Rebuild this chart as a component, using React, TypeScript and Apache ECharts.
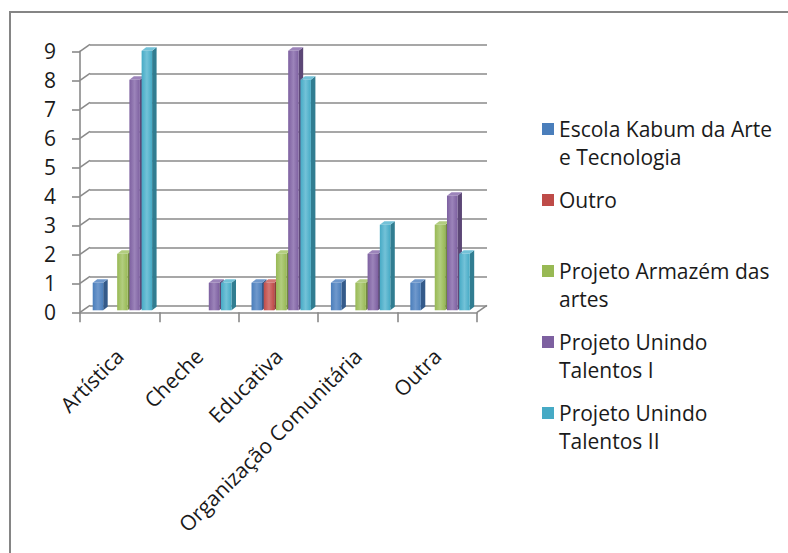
import React, { useEffect, useRef } from "react";
import * as echarts from "echarts";

const categories = ["Artística", "Cheche", "Educativa", "Organização Comunitária", "Outra"];
const seriesNames = [
  "Escola Kabum da Arte e Tecnologia",
  "Outro",
  "Projeto Armazém das artes",
  "Projeto Unindo Talentos I",
  "Projeto Unindo Talentos II",
];
const legendLabels = [
  "Escola Kabum da Arte\ne Tecnologia",
  "Outro\n\u00a0",
  "Projeto Armazém das\nartes",
  "Projeto Unindo\nTalentos I",
  "Projeto Unindo\nTalentos II",
];
const escolaKabum = [1, 0, 1, 1, 1];
const outro = [0, 0, 1, 0, 0];
const armazem = [2, 0, 2, 1, 3];
const unindoI = [8, 1, 9, 2, 4];
const unindoII = [9, 1, 8, 3, 2];
const seriesValues = [escolaKabum, outro, armazem, unindoI, unindoII];
const yTicks = [0, 1, 2, 3, 4, 5, 6, 7, 8, 9];

const fronts = ["#4A7EBB", "#BE4B48", "#98B954", "#7D60A0", "#46AAC5"];
const sides = ["#345A8A", "#8C3836", "#71893F", "#5C4776", "#317D91"];
const tops = ["#6F98CC", "#D27774", "#B2CD7F", "#9C84BA", "#73C2D8"];

const FONT = "'Open Sans', 'Noto Sans', sans-serif";
const GRID_COLOR = "#8a8a8a";
const DX = 10;
const DY = -7;
const GL = 80;
const GT = 51.3;
const GW = 397;
const GH = 261;

export default function App() {
  const ref = useRef<HTMLDivElement>(null);
  useEffect(() => {
    if (!ref.current) return;
    const chart = echarts.init(ref.current, null, { renderer: "svg" });

    const barSeries = seriesValues.map((vals, k) => ({
      type: "custom",
      name: seriesNames[k],
      xAxisIndex: 0,
      yAxisIndex: 0,
      itemStyle: { color: fronts[k] },
      encode: { x: 0, y: 1 },
      data: vals.map((v, i) => [i, v]),
      renderItem: (params: any, api: any) => {
        const cat = api.value(0);
        const v = api.value(1);
        if (!v) return null;
        const base = api.coord([cat, 0]);
        const top = api.coord([cat, v]);
        const band = api.size([1, 0])[0];
        const w = 0.132 * band;
        const x0 = base[0] - 0.34 * band + 0.154 * band * k;
        const y0 = base[1] - 2;
        const y1 = top[1] - 0.5;
        const dx = 4.5;
        const dy = -3.5;
        return {
          type: "group",
          children: [
            {
              type: "polygon",
              shape: { points: [[x0 + w, y1], [x0 + w + dx, y1 + dy], [x0 + w + dx, y0 + dy], [x0 + w, y0]] },
              style: { fill: sides[k] },
            },
            {
              type: "polygon",
              shape: { points: [[x0, y1], [x0 + dx, y1 + dy], [x0 + w + dx, y1 + dy], [x0 + w, y1]] },
              style: { fill: tops[k] },
            },
            {
              type: "rect",
              shape: { x: x0, y: y1, width: w, height: y0 - y1 },
              style: {
                fill: new echarts.graphic.LinearGradient(0, 0, 1, 0, [
                  { offset: 0, color: fronts[k] },
                  { offset: 0.5, color: tops[k] },
                  { offset: 1, color: fronts[k] },
                ]),
              },
            },
          ],
        };
      },
    }));

    const wallSeries = {
      type: "custom",
      name: "walls",
      silent: true,
      xAxisIndex: 0,
      yAxisIndex: 0,
      encode: { x: 0, y: 1 },
      data: yTicks.map((v) => [0, v]),
      renderItem: (params: any, api: any) => {
        const v = api.value(1);
        const cs = params.coordSys;
        const y = api.coord([0, v])[1];
        const children: any[] = [
          {
            type: "line",
            shape: { x1: cs.x, y1: y, x2: cs.x + DX, y2: y + DY },
            style: { stroke: GRID_COLOR, lineWidth: 1.6 },
          },
        ];
        if (v === 0) {
          children.push({
            type: "line",
            shape: { x1: cs.x + cs.width, y1: y, x2: cs.x + cs.width + DX, y2: y + DY },
            style: { stroke: GRID_COLOR, lineWidth: 1.6 },
          });
        }
        return { type: "group", children };
      },
    };

    chart.setOption({
      animation: false,
      backgroundColor: "#ffffff",
      graphic: [
        {
          type: "rect",
          shape: { x: 10, y: 12, width: 800, height: 560 },
          style: { fill: "none", stroke: "#858585", lineWidth: 2 },
          z: 100,
        },
      ],
      grid: [
        { left: GL, top: GT, width: GW, height: GH },
        { left: GL + DX, top: GT + DY, width: GW, height: GH },
      ],
      xAxis: [
        {
          type: "category",
          gridIndex: 0,
          data: categories,
          axisLine: { show: true, lineStyle: { color: GRID_COLOR, width: 1.6 } },
          axisTick: { show: true, length: 10, lineStyle: { color: GRID_COLOR, width: 1.6 } },
          axisLabel: {
            interval: 0,
            rotate: 45,
            margin: 40,
            fontFamily: FONT,
            fontSize: 21,
            color: "#1a1a1a",
          },
        },
        { type: "category", gridIndex: 1, data: categories, show: false },
      ],
      yAxis: [
        {
          type: "value",
          gridIndex: 0,
          min: 0,
          max: 9,
          interval: 1,
          axisLine: { show: true, lineStyle: { color: GRID_COLOR, width: 1.6 } },
          axisTick: { show: true, length: 8, lineStyle: { color: GRID_COLOR, width: 1.6 } },
          splitLine: { show: false },
          axisLabel: {
            margin: 24,
            fontFamily: FONT,
            fontSize: 21,
            color: "#1a1a1a",
            padding: [5, 0, 0, 0],
          },
        },
        {
          type: "value",
          gridIndex: 1,
          min: 0,
          max: 9,
          interval: 1,
          axisLine: { show: false },
          axisTick: { show: false },
          axisLabel: { show: false },
          splitLine: { show: true, lineStyle: { color: GRID_COLOR, width: 1.6 } },
        },
      ],
      legend: {
        orient: "vertical",
        left: 542,
        top: 87,
        padding: 0,
        itemGap: -13,
        itemWidth: 12,
        itemHeight: 12,
        icon: "rect",
        data: seriesNames,
        formatter: (name: string) => "\u00a0\n" + legendLabels[seriesNames.indexOf(name)],
        textStyle: {
          fontFamily: FONT,
          fontSize: 21,
          lineHeight: 28,
          color: "#1a1a1a",
        },
      },
      series: [wallSeries, ...barSeries],
    });
    return () => chart.dispose();
  }, []);
  return (
    <div
      ref={ref}
      style={{ position: "absolute", left: 0, top: 0, width: 788, height: 553 }}
    />
  );
}
